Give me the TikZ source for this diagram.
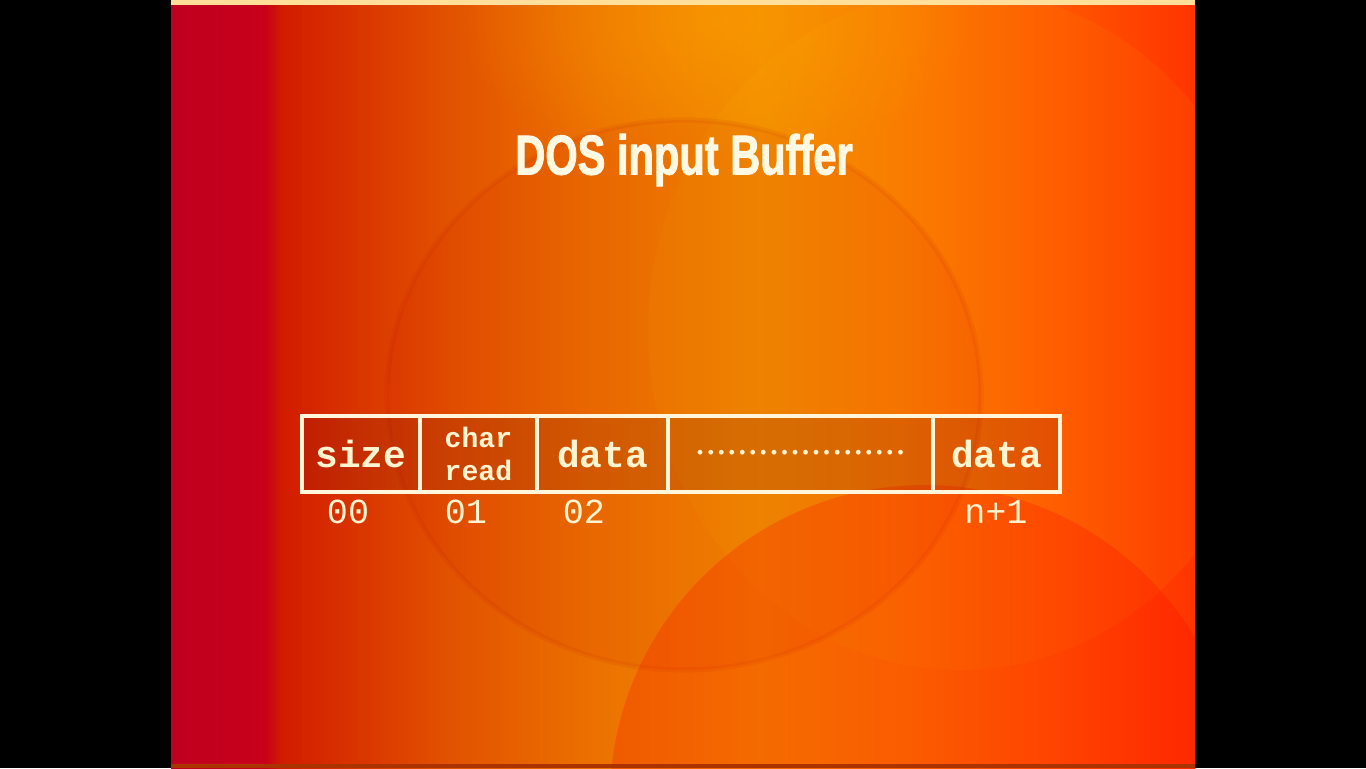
\documentclass[tikz,border=0pt]{standalone}
\usepackage{fontspec}
\usetikzlibrary{positioning,fadings}

\newfontfamily\cellfont{Liberation Mono}
\newfontfamily\titlefont{Liberation Sans}[FakeStretch=0.74,FakeBold=1.6]

% slide colours, left to right
\definecolor{slideA}{HTML}{BE001F}
\definecolor{slideB}{HTML}{C8001A}
\definecolor{slideC}{HTML}{D21C00}
\definecolor{slideD}{HTML}{E25200}
\definecolor{slideE}{HTML}{EC7200}
\definecolor{slideF}{HTML}{F28A00}
\definecolor{slideG}{HTML}{F97800}
\definecolor{slideH}{HTML}{FF5800}
\definecolor{slideI}{HTML}{FF3400}
\definecolor{glow}{HTML}{FFA800}
\definecolor{ink}{HTML}{FFF4D0}
\definecolor{rule}{HTML}{FFF6DC}
\definecolor{cellshade}{HTML}{5A0A10}

\pgfdeclarehorizontalshading{slide}{100bp}{color(0bp)=(slideA); color(25bp)=(slideA);
  color(29.6bp)=(slideB); color(30.4bp)=(slideC); color(38.6bp)=(slideD);
  color(45.9bp)=(slideE); color(53.8bp)=(slideF); color(60.6bp)=(slideG);
  color(67.9bp)=(slideH); color(75bp)=(slideI); color(100bp)=(slideI)}

\tikzfading[name=softdisc, inner color=transparent!0, outer color=transparent!100]

\begin{document}
\begin{tikzpicture}[x=0.02cm, y=-0.02cm,
cell/.style={
% The box:
rectangle,
draw=rule, line width=0.09cm,
fill=cellshade, fill opacity=0.16, text opacity=1,
minimum height=1.52cm, inner sep=0pt, outer sep=0pt,
% The text:
text=ink, font=\cellfont\bfseries\fontsize{21.5}{24}\selectfont
},
idx/.style={
text=ink, font=\cellfont\fontsize{20}{22}\selectfont,
anchor=base, inner sep=0pt
}
]
\useasboundingbox (0,0) rectangle (1366,768);
\fill[black] (0,0) rectangle (1366,768);

% background of the slide
\begin{scope}
\clip (171,0) rectangle (1195,768);
\shade[shading=slide] (171,0) rectangle (1195,768);
\fill[glow, path fading=softdisc, fill opacity=0.45] (715,20) ellipse [x radius=260, y radius=150];
% the large soft discs
\fill[yellow!60!orange, fill opacity=0.07] (960,330) ellipse [x radius=312, y radius=340];
\fill[red!80!black, fill opacity=0.08] (684,395) ellipse [x radius=297, y radius=275];
\draw[red!70!black, opacity=0.07, line width=3pt] (684,395) ellipse [x radius=297, y radius=275];
\fill[red, fill opacity=0.22] (925,800) circle [radius=315];
\fill[rule!70!glow] (171,0) rectangle (1195,5);
\fill[black!55!red!60!orange] (171,764) rectangle (1195,768);
\end{scope}

\node[text=ink!60!white, font=\titlefont\bfseries\fontsize{32}{36}\selectfont] (title) at (684,160) {DOS input Buffer};

% the buffer, one cell after the other
\node[cell, minimum width=2.36cm] (size) at (361,454) {size};
\node[cell, minimum width=2.34cm, right=0pt of size, align=center,
  font=\cellfont\bfseries\fontsize{16}{18.7}\selectfont] (chr) {char\\read};
\node[cell, minimum width=2.62cm, right=0pt of chr] (data) {data};
\node[cell, minimum width=5.30cm, right=0pt of data,
  font=\cellfont\fontsize{10}{12}\selectfont] (gap) {••••••••••••••••••••};
\node[cell, minimum width=2.54cm, right=0pt of gap] (last) {data};

% offsets under the cells
\node[idx] (i0) at ([shift={(46,31)}]size.south west) {00};
\node[idx] (i1) at ([shift={(46,31)}]chr.south west) {01};
\node[idx] (i2) at ([shift={(47,31)}]data.south west) {02};
\node[idx] (in) at ([shift={(63,31)}]last.south west) {n+1};
\end{tikzpicture}
\end{document}
